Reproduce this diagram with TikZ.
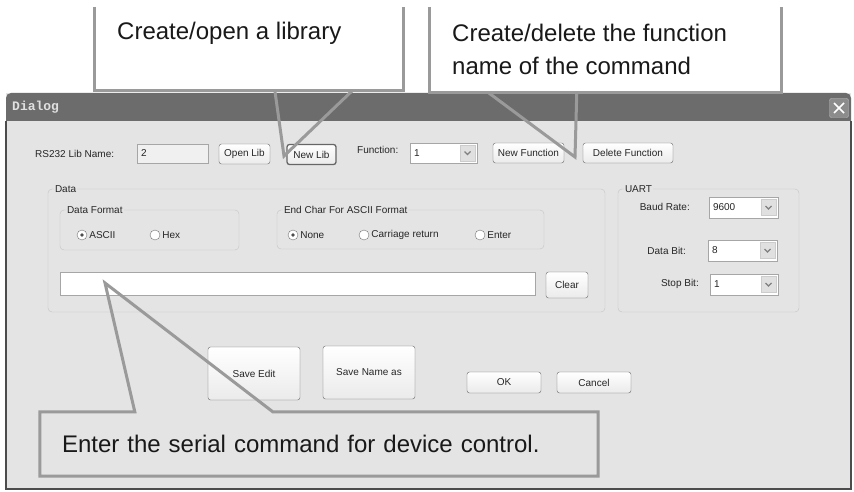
\documentclass[tikz,border=0pt]{standalone}
\usepackage{fontspec}
\setmainfont{Liberation Sans}
\newfontfamily\titlefont{Liberation Mono}
\usepackage{tikz}
\definecolor{dlgbg}{HTML}{E4E4E4}
\definecolor{notegray}{HTML}{9A9A9A}
\definecolor{titlemid}{HTML}{6C6C6C}
\definecolor{framegray}{HTML}{C4C4C4}
\tikzset{
    dlgtext/.style={font=\fontsize{10}{12}\selectfont,text=black!85,inner sep=0pt},
    button/.style={dlgtext,draw=black!60,rounded corners=2.5pt,top color=white,bottom color=black!8,minimum height=20pt},
    focusbutton/.style={button,line width=1.3pt},
    field/.style={draw=black!35,fill=white,inner sep=0pt},
    greyfield/.style={field,fill=black!6},
    dropbtn/.style={draw=black!20,fill=black!12,minimum width=15pt,minimum height=16pt,inner sep=0pt,
        path picture={\draw[black!50,line width=1.2pt] ([shift={(-3pt,1.5pt)}]path picture bounding box.center) -- ([shift={(0pt,-1.5pt)}]path picture bounding box.center) -- ([shift={(3pt,1.5pt)}]path picture bounding box.center);}},
    groupbox/.style={draw=framegray,rounded corners=4pt,inner sep=0pt},
    grouplabel/.style={dlgtext,fill=dlgbg,inner xsep=1pt,anchor=west},
    radio/.style={circle,draw=black!55,fill=white,minimum size=10pt,inner sep=0pt},
    radioon/.style={radio,path picture={\fill[black!70] (path picture bounding box.center) circle (1.8pt);}},
    callout/.style={draw=notegray,line width=3pt},
    notetext/.style={font=\fontsize{24}{33}\selectfont,text=black!90,inner sep=0pt}
}

\begin{document}
\begin{tikzpicture}[x=1pt,y=-1pt]

\fill[white] (0,0) rectangle (854,492);
\useasboundingbox (0,0) rectangle (854,492);

% dialog window
\node[fill=dlgbg,minimum width=845pt,minimum height=396pt,inner sep=0pt] (dialog) at (428.5,291) {};
\fill[titlemid] (6,121) [rounded corners=5pt] -- (6,93) -- (851,93) [sharp corners] -- (851,121) -- cycle;
\node[font=\titlefont\bfseries\fontsize{13}{15}\selectfont,text=white!88!black,anchor=west,inner sep=0pt] (dlgtitle) at (12,107) {Dialog};
\node[draw=white!75!black,fill=black!45,rounded corners=2pt,minimum size=19pt,inner sep=0pt] (closebtn) at (839,108) {};
\draw[white,line width=1.6pt] ([shift={(-5pt,-5pt)}]closebtn.center) -- ([shift={(5pt,5pt)}]closebtn.center);
\draw[white,line width=1.6pt] ([shift={(-5pt,5pt)}]closebtn.center) -- ([shift={(5pt,-5pt)}]closebtn.center);
\draw[black!70,line width=1.5pt] (6,121) -- (6,489) -- (851,489) -- (851,121);

% library row
\node[dlgtext,anchor=west] (libnamelbl) at (35,153.5) {RS232 Lib Name:};
\node[greyfield,minimum width=71pt,minimum height=19pt] (libname) at (172.5,153.5) {};
\node[dlgtext,anchor=west] (libnameval) at ([xshift=4pt]libname.west) {2};
\node[button,minimum width=51pt] (openlib) at (244.5,154) {Open Lib};
\node[focusbutton,minimum width=49pt] (newlib) at (311.5,154.5) {New Lib};
\node[dlgtext,anchor=west] (funclbl) at (357,150) {Function:};
\node[field,minimum width=67pt,minimum height=20pt] (func) at (443.5,153) {};
\node[dlgtext,anchor=west] (funcval) at ([xshift=4pt]func.west) {1};
\node[dropbtn,anchor=east] (funcdrop) at ([xshift=-2pt]func.east) {};
\node[button,minimum width=71pt] (newfunc) at (528.5,153) {New Function};
\node[button,minimum width=90pt] (delfunc) at (628,153) {Delete Function};

% data group
\node[groupbox,minimum width=557pt,minimum height=123pt] (datagrp) at (326.5,250.5) {};
\node[grouplabel] (datalbl) at ([xshift=6pt]datagrp.north west) {Data};
\node[groupbox,minimum width=179pt,minimum height=40pt] (fmtgrp) at (149.5,230) {};
\node[grouplabel] (fmtlbl) at ([xshift=6pt]fmtgrp.north west) {Data Format};
\node[groupbox,minimum width=267pt,minimum height=39pt] (endgrp) at (410.5,229.5) {};
\node[grouplabel] (endlbl) at ([xshift=6pt]endgrp.north west) {End Char For ASCII Format};

\node[radioon] (ascii) at (82,235) {};
\node[dlgtext,anchor=west] (asciilbl) at ([xshift=2pt]ascii.east) {ASCII};
\node[radio] (hex) at (155,235) {};
\node[dlgtext,anchor=west] (hexlbl) at ([xshift=2pt]hex.east) {Hex};
\node[radioon] (none) at (293,235) {};
\node[dlgtext,anchor=west] (nonelbl) at ([xshift=2pt]none.east) {None};
\node[radio] (cret) at (364,235) {};
\node[dlgtext,anchor=west] (cretlbl) at ([xshift=2pt]cret.east) {Carriage return};
\node[radio] (enter) at (480,235) {};
\node[dlgtext,anchor=west] (enterlbl) at ([xshift=2pt]enter.east) {Enter};

\node[field,minimum width=475pt,minimum height=23pt] (cmdfield) at (297.5,283.5) {};
\node[button,minimum width=42pt,minimum height=26pt] (clear) at (567,285) {Clear};

% uart group
\node[groupbox,minimum width=181pt,minimum height=123pt] (uartgrp) at (708.5,250.5) {};
\node[grouplabel] (uartlbl) at ([xshift=6pt]uartgrp.north west) {UART};
\node[dlgtext,anchor=east] (baudlbl) at (690,207) {Baud Rate:};
\node[field,minimum width=69pt,minimum height=21pt] (baud) at (743.5,207.5) {};
\node[dlgtext,anchor=west] (baudval) at ([xshift=4pt]baud.west) {9600};
\node[dropbtn,anchor=east] (bauddrop) at ([xshift=-2pt]baud.east) {};
\node[dlgtext,anchor=east] (dbitlbl) at (686,251) {Data Bit:};
\node[field,minimum width=69pt,minimum height=21pt] (dbit) at (742.5,250.5) {};
\node[dlgtext,anchor=west] (dbitval) at ([xshift=4pt]dbit.west) {8};
\node[dropbtn,anchor=east] (dbitdrop) at ([xshift=-2pt]dbit.east) {};
\node[dlgtext,anchor=east] (sbitlbl) at (699,284) {Stop Bit:};
\node[field,minimum width=68pt,minimum height=21pt] (sbit) at (744,284.5) {};
\node[dlgtext,anchor=west] (sbitval) at ([xshift=4pt]sbit.west) {1};
\node[dropbtn,anchor=east] (sbitdrop) at ([xshift=-2pt]sbit.east) {};

% bottom buttons
\node[button,minimum width=92pt,minimum height=53pt] (saveedit) at (254,373.5) {Save Edit};
\node[button,minimum width=92pt,minimum height=53pt] (savename) at (369,372.5) {Save Name as};
\node[button,minimum width=74pt,minimum height=21pt] (ok) at (504,382.5) {OK};
\node[button,minimum width=74pt,minimum height=21pt] (cancel) at (594,382.5) {Cancel};

% callouts
\coordinate (libtip) at (284,156);
\coordinate (functip) at (575,157);
\coordinate (fieldtip) at (105,283);

\node[minimum width=308pt,minimum height=83pt,inner sep=0pt] (libnote) at (249,48.5) {};
\node[notetext,anchor=west] (libtext) at (117,33) {Create/open a library};
\draw[callout] (libnote.north west) -- (libnote.south west) -- (libnote.south east) -- (libnote.north east);
\draw[callout] ([xshift=180pt]libnote.south west) -- (libtip) -- ([xshift=258pt]libnote.south west);

\node[minimum width=351pt,minimum height=85pt,inner sep=0pt] (fncnote) at (605.5,49.5) {};
\node[notetext,align=left,anchor=west] (fnctext) at (452,49.5) {Create/delete the function\\name of the command};
\draw[callout] (fncnote.north west) -- (fncnote.south west) -- (fncnote.south east) -- (fncnote.north east);
\draw[callout] ([xshift=58pt]fncnote.south west) -- (functip) -- ([xshift=147pt]fncnote.south west);

\node[notetext,fill=dlgbg,inner xsep=22pt,text width=514pt,minimum height=64pt,align=left] (cmdnote) at (319,444) {Enter the serial command for device control.};
\draw[callout] (cmdnote.north west) -- ([xshift=95pt]cmdnote.north west) -- (fieldtip) -- ([xshift=233pt]cmdnote.north west) -- (cmdnote.north east) -- (cmdnote.south east) -- (cmdnote.south west) -- cycle;

\end{tikzpicture}
\end{document}
